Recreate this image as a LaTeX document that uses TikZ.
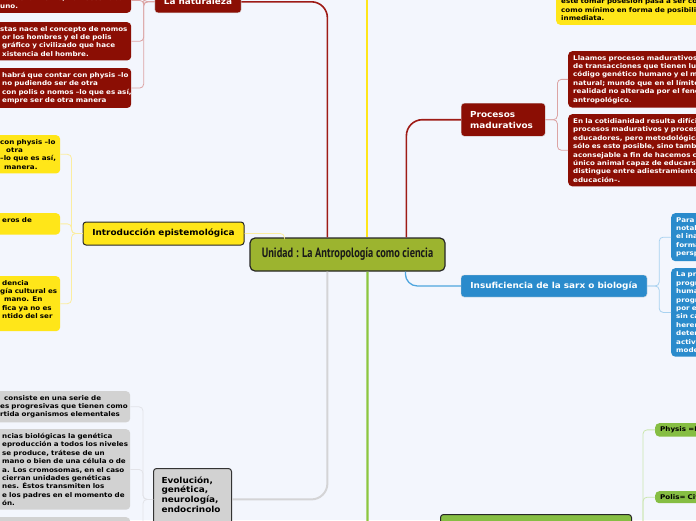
\documentclass[tikz,border=0pt]{standalone}
\usepackage{fontspec}
\setmainfont{DejaVu Sans}
\newfontfamily\titlefont{PT Sans}
\newfontfamily\notefont{DejaVu Sans}[FakeStretch=1.1]
\newfontfamily\boxfont{DejaVu Sans}[FakeStretch=1.07]
\usepackage{graphicx}
\usetikzlibrary{calc,positioning}
\definecolor{bgpage}{HTML}{F3F6FD}
\definecolor{rednode}{HTML}{8B0E04}
\definecolor{redline}{HTML}{9E1B16}
\definecolor{redthin}{HTML}{DCA4A4}
\definecolor{yellownode}{HTML}{FFE619}
\definecolor{yellowthin}{HTML}{FBEDA0}
\definecolor{greynode}{HTML}{D2D2D2}
\definecolor{greyline}{HTML}{D4D4D6}
\definecolor{greythin}{HTML}{E2E3E8}
\definecolor{bluenode}{HTML}{2A8BCC}
\definecolor{blueline}{HTML}{4EA5DE}
\definecolor{bluethin}{HTML}{A9D2F0}
\definecolor{olivenode}{HTML}{9CB42F}
\definecolor{greennode}{HTML}{86BE43}
\definecolor{greenline}{HTML}{8CC63F}
\definecolor{greenthin}{HTML}{CBE6AE}
\newcommand\frag[1]{\mbox{#1}}   % one unbroken line of a cut note
\tikzset{
     topic/.style = {draw=black!85, line width=1.2pt, fill=olivenode,
                     rounded corners=5pt, minimum width=195pt, minimum height=33pt,
                     font=\titlefont\bfseries\fontsize{13.5}{14}\selectfont, text=black!90},
   mainbox/.style = {rounded corners=3pt, inner xsep=9pt,
                     font=\boxfont\fontsize{8.3}{11}\selectfont\bfseries},   % <--- first level
      leaf/.style = {rounded corners=4pt, align=left, text width=#1,
                     inner xsep=5pt, inner ysep=4pt,
                     font=\notefont\fontsize{6.5}{8.4}\selectfont\bfseries},  % <--- notes
   redmain/.style = {redline, line width=1.6pt, rounded corners=16pt},
    redsub/.style = {redthin, line width=0.8pt, rounded corners=4pt},
   yelmain/.style = {yellownode, line width=2.2pt},
    yelsub/.style = {yellowthin, line width=0.8pt, rounded corners=4pt},
  greymain/.style = {greyline, line width=2pt, rounded corners=16pt},
   greysub/.style = {greythin, line width=0.8pt, rounded corners=4pt},
  bluemain/.style = {blueline, line width=1.3pt, rounded corners=12pt},
   bluesub/.style = {bluethin, line width=0.8pt, rounded corners=4pt},
 greenmain/.style = {greenline, line width=2.2pt, rounded corners=10pt},
  greensub/.style = {greenthin, line width=0.8pt, rounded corners=4pt},
}

\begin{document}
\begin{tikzpicture}[x=1pt,y=-1pt]
\useasboundingbox (0,0) rectangle (696,520);
\fill[bgpage] (0,0) rectangle (696,520);
\clip (0,0) rectangle (696,520);

% central topic
\node[topic] (unidad) at (347.5,254.5) {\scalebox{0.77}[1]{Unidad : La Antropología como ciencia}};

% first level
\node[mainbox, fill=rednode, text=white, draw=black!15, minimum width=84pt, minimum height=22pt,
      anchor=south] (natur) at (198,13) {La naturaleza};
\node[mainbox, fill=yellownode, draw=black!85, line width=1pt, minimum width=161pt,
      minimum height=23pt] (intro) at (163.5,233.5) {Introducción epistemológica};
\node[mainbox, fill=rednode, text=white, draw=black!15, text width=66pt, align=left,
      minimum height=33pt, anchor=north west] (proc) at (461,103) {Procesos\\madurativos};
\node[mainbox, fill=bluenode, text=white, draw=black!15, minimum width=186pt,
      minimum height=22pt] (sarx) at (554,286) {Insuficiencia de la sarx o biología};
\node[mainbox, fill=greynode, draw=black!80, line width=1pt, text width=62pt, align=left,
      inner xsep=8pt, inner ysep=8pt, anchor=north west,
      font=\boxfont\fontsize{8.3}{9.8}\selectfont\bfseries] (evol) at (153,468)
      {Evolución,\\genética,\\neurología,\\endocrinolo\\\mbox{}};
\node[mainbox, fill=greennode, draw=black!85, line width=1pt, minimum width=191pt,
      minimum height=36pt, anchor=north west] (physpol) at (440,514) {};

% notes of la naturaleza
\node[leaf=126pt, fill=rednode, text=white, anchor=south west] (naturA) at (-5,13)
      {\mbox{}\\\frag{ncadenamiento, no necesitaba}\\\frag{uno.}};
\node[leaf=126pt, fill=rednode, text=white, anchor=north west] (naturB) at (-5,22)
      {\frag{stas nace el concepto de nomos}\\\frag{\hspace*{2pt}or los hombres y el de polis}\\
       \frag{\hspace*{2pt}gráfico y civilizado que hace}\\\frag{\hspace*{2pt}xistencia del hombre.}};
\node[leaf=126pt, fill=rednode, text=white, anchor=north west] (naturC) at (-5,68)
      {\frag{\hspace*{2pt}habrá que contar con physis –lo}\\\frag{\hspace*{2pt}no pudiendo ser de otra}\\
       \frag{\hspace*{2pt}con polis o nomos –lo que es así,}\\\frag{\hspace*{2pt}empre ser de otra manera}};

% notes of introduccion
\node[leaf=55pt, fill=yellownode, anchor=north west] (introA) at (-5,135)
      {\frag{con physis –lo}\\\frag{\hspace*{6pt}otra}\\\frag{–lo que es así,}\\\frag{\hspace*{4pt}manera.}};
\node[leaf=55pt, fill=yellownode, anchor=north west] (introB) at (-5,213)
      {\frag{\hspace*{2pt}eros de}\\\mbox{}};
\node[leaf=55pt, fill=yellownode, anchor=north west] (introC) at (-5,276)
      {\frag{\hspace*{2pt}dencia}\\\frag{gía cultural es}\\\frag{\hspace*{4pt}mano. En}\\
       \frag{\hspace*{2pt}fica ya no es}\\\frag{\hspace*{2pt}ntido del ser}\\\mbox{}};

% notes of evolucion
\node[leaf=125pt, fill=greynode, anchor=north west] (evolA) at (-5,391)
      {\frag{\hspace*{4pt}consiste en una serie de}\\\frag{es progresivas que tienen como}\\
       \frag{rtida organismos elementales}};
\node[leaf=125pt, fill=greynode, anchor=north west] (evolB) at (-5,429)
      {\frag{\hspace*{2pt}ncias biológicas la genética}\\\frag{\hspace*{2pt}eproducción a todos los niveles}\\
       \frag{\hspace*{2pt}se produce, trátese de un}\\\frag{\hspace*{2pt}mano o bien de una célula o de}\\
       \frag{\hspace*{2pt}a. Los cromosomas, en el caso}\\\frag{\hspace*{2pt}cierran unidades genéticas}\\
       \frag{\hspace*{2pt}nes. Éstos transmiten los}\\\frag{\hspace*{2pt}e los padres en el momento de}\\
       \frag{\hspace*{2pt}ón.}};
\node[leaf=125pt, fill=greynode, anchor=north west] (evolC) at (-5,517)
      {\mbox{}\\\mbox{}\\\mbox{}};

% notes of procesos madurativos
\node[leaf=150pt, fill=rednode, text=white, anchor=north west] (procA) at (568,51)
      {Llaamos procesos madurativos\\de transacciones que tienen lug\\código genético humano y el m\\
       natural; mundo que en el límite\\realidad no alterada por el fenó\\antropológico.};
\node[leaf=150pt, fill=rednode, text=white, anchor=north west] (procB) at (568,114)
      {En la cotidianidad resulta difícil\\procesos madurativos y proces\\educadores, pero metodológica\\
       sólo es esto posible, sino tamb\\aconsejable a fin de hacemos c\\único animal capaz de educarse\\
       distingue entre adiestramiento\\educación–.};
\node[leaf=150pt, fill=yellownode, anchor=south west] (yelTR) at (556,25)
      {este tomar posesión pasa a ser co\\como mínimo en forma de posibilid\\inmediata.};

% notes of sarx
\node[leaf=60pt, fill=bluenode, text=white, anchor=north west] (sarxA) at (671,213)
      {Para l\\notab\\el ina\\forma\\persp};
\node[leaf=60pt, fill=bluenode, text=white, anchor=north west] (sarxB) at (671,268)
      {La pr\\progr\\huma\\progr\\por ej\\sin ca\\heren\\deter\\activi\\mode};

% notes of physis / polis
\node[leaf=60pt, fill=greennode, inner ysep=3.5pt, anchor=north west] (physis) at (655,423) {Physis =N};
\node[leaf=60pt, fill=greennode, inner ysep=3.5pt, anchor=north west] (polis) at (655,491) {Polis= Civ};

% branches from the topic
\coordinate (yelTop) at (367,-30);
\draw[redmain] ([xshift=78pt]unidad.north west) |- (natur.east);
\draw[redmain] ([xshift=157pt]unidad.north west) |- (proc.west);
\draw[yelmain] (yelTop) -- (yelTop |- unidad.north);
\draw[yelsub] (intro.east) -| ([xshift=35pt]unidad.north west);
\draw[greymain] ([xshift=78pt]unidad.south west) |- (evol.east);
\draw[bluemain] ([xshift=156pt]unidad.south west) |- (sarx.west);
\draw[greenmain] ([xshift=118pt]unidad.south west) |- (physpol.west);

% note connectors
\foreach \n in {naturA,naturB,naturC}
  \draw[redsub] (natur.west) -- ++(-11,0) |- (\n.east);
\foreach \n in {introA,introB,introC}
  \draw[yelsub] (intro.west) -- ++(-11,0) |- (\n.east);
\foreach \n in {evolA,evolB,evolC}
  \draw[greysub] (evol.west) -- ++(-10,0) |- (\n.east);
\foreach \n in {procA,procB}
  \draw[redsub] (proc.east) -- ++(12,0) |- (\n.west);
\foreach \n in {sarxA,sarxB}
  \draw[bluesub] (sarx.east) -- ++(12,0) |- (\n.west);
\foreach \n in {physis,polis}
  \draw[greensub] (physpol.east) -- ++(11,0) |- (\n.west);
\end{tikzpicture}
\end{document}
